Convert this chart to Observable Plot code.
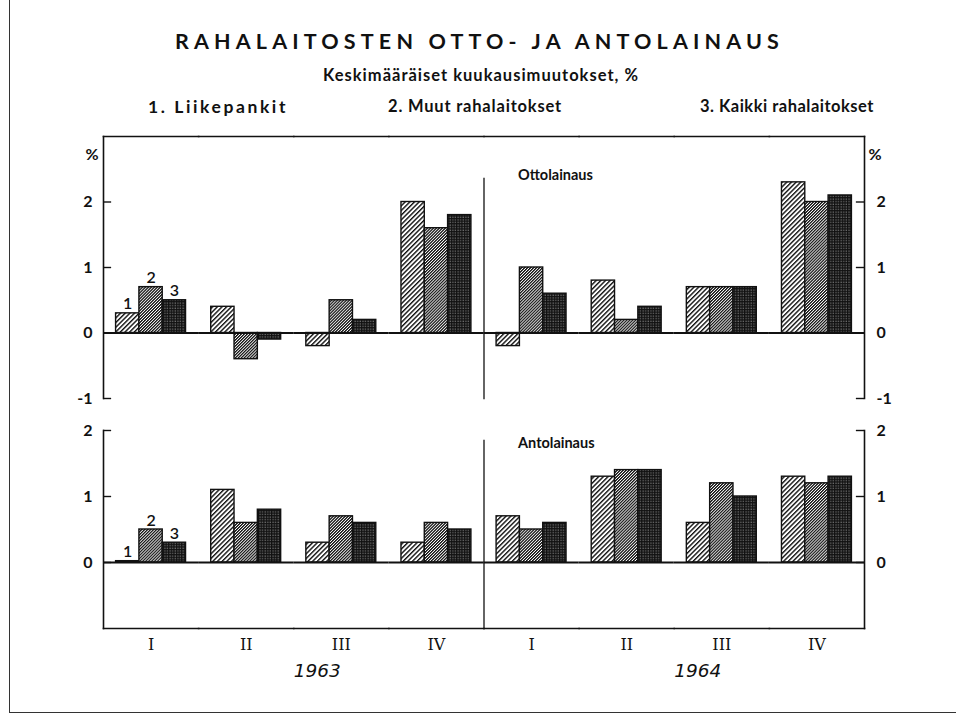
<!DOCTYPE html>
<html>
<head>
<meta charset="utf-8">
<script src="https://cdn.jsdelivr.net/npm/d3@7"></script>
<script src="https://cdn.jsdelivr.net/npm/@observablehq/plot@0.6"></script>
<style>
  body { margin: 0; background: #fff; }
  #page { position: relative; width: 956px; height: 725px; font-family: Lato, "Open Sans", sans-serif; color: #111; overflow: hidden; }
  .t { position: absolute; white-space: nowrap; font-weight: 700; line-height: 1; }
  .panel { position: absolute; left: 0; }
  #border { position: absolute; left: 9px; top: -2px; width: 960px; height: 714px; border-left: 1.5px solid #333; border-bottom: 1.5px solid #333; }
</style>
</head>
<body>
<div id="page">
  <div id="border"></div>
  <svg width="0" height="0" style="position:absolute">
    <defs>
      <pattern id="h1" patternUnits="userSpaceOnUse" width="3.3" height="3.3" patternTransform="rotate(45)">
        <rect width="3.3" height="3.3" fill="#fff"></rect>
        <rect x="0" y="0" width="1.4" height="3.3" fill="#111"></rect>
      </pattern>
      <pattern id="h2" patternUnits="userSpaceOnUse" width="2.1" height="2.1" patternTransform="rotate(45)">
        <rect width="2.1" height="2.1" fill="#fff"></rect>
        <rect x="0" y="0" width="1.25" height="2.1" fill="#111"></rect>
      </pattern>
      <pattern id="h3" patternUnits="userSpaceOnUse" width="2.6" height="2.6">
        <rect width="2.6" height="2.6" fill="#111"></rect>
        <rect x="0.6" y="0.6" width="0.8" height="0.8" fill="#fff"></rect>
      </pattern>
    </defs>
  </svg>
  <div id="texts"></div>
  <div class="panel" id="top" style="top:120px"></div>
  <div class="panel" id="bottom" style="top:412px"></div>
</div>
<script>
// ---- data ----
const years = ["1963", "1964"];
const quarters = ["I", "II", "III", "IV"];
const series = ["1", "2", "3"];
const seriesNames = ["1. Liikepankit", "2. Muut rahalaitokset", "3. Kaikki rahalaitokset"];
const panelTitles = ["Ottolainaus", "Antolainaus"];
const chartTitle = "RAHALAITOSTEN OTTO- JA ANTOLAINAUS";
const chartSubtitle = "Keskimääräiset kuukausimuutokset, %";

// Ottolainaus (deposits), average monthly change %, 1963 I..IV, 1964 I..IV
const otto1 = [0.3, 0.4, -0.2, 2.0, -0.2, 0.8, 0.7, 2.3];
const otto2 = [0.7, -0.4, 0.5, 1.6, 1.0, 0.2, 0.7, 2.0];
const otto3 = [0.5, -0.1, 0.2, 1.8, 0.6, 0.4, 0.7, 2.1];
// Antolainaus (lending)
const anto1 = [0.02, 1.1, 0.3, 0.3, 0.7, 1.3, 0.6, 1.3];
const anto2 = [0.5, 0.6, 0.7, 0.6, 0.5, 1.4, 1.2, 1.2];
const anto3 = [0.3, 0.8, 0.6, 0.5, 0.6, 1.4, 1.0, 1.3];

const topTicks = [-1, 0, 1, 2];
const bottomTicks = [0, 1, 2];

// ---- build tables ----
const quarterKeys = years.flatMap(y => quarters.map(q => `${y}-${q}`));
function rows(vals) {
  return quarterKeys.flatMap((k, i) => series.map((s, j) => ({key: k, s, v: vals[j][i]})));
}
const ottoRows = rows([otto1, otto2, otto3]);
const antoRows = rows([anto1, anto2, anto3]);
const yearRows = years.map(y => ({key: `${y}-III`, year: y}));

// ---- header texts (fitted to the reference widths) ----
const texts = document.getElementById("texts");
function addText(str, left, top, size, target) {
  const d = document.createElement("div");
  d.className = "t";
  d.style.left = left + "px";
  d.style.top = top + "px";
  d.style.fontSize = size + "px";
  d.textContent = str;
  texts.appendChild(d);
  const w = d.getBoundingClientRect().width;
  const n = str.length;
  d.style.letterSpacing = Math.max(0, (target - w) / n) + "px";
  return d;
}
addText(chartTitle, 175, 31, 21.5, 609);
addText(chartSubtitle, 323, 67, 16.5, 316);
const legendPos = [148, 388, 700];
const legendW = [140, 174, 174];
const legendSize = [17.5, 16.5, 16.5];
seriesNames.forEach((n, i) => addText(n, legendPos[i], 98, legendSize[i], legendW[i]));

const ink = "#111";
const W = 956, ML = 103, MR = 92;

function panel({data, yDomain, yTicks, height, marginTop, marginBottom, title, titleDy, dividerInset, isTop}) {
  const marks = [
    Plot.barY(data, {fx: "key", x: "s", y: "v", fill: "s", stroke: ink, strokeWidth: 1.4}),
    Plot.ruleY([0], {stroke: ink, strokeWidth: 2}),
    Plot.frame({anchor: "left", facetAnchor: "left", stroke: ink, strokeWidth: 1.6}),
    Plot.frame({anchor: "right", facetAnchor: "right", stroke: ink, strokeWidth: 1.6}),
    Plot.frame({anchor: isTop ? "top" : "bottom", stroke: ink, strokeWidth: 1.6}),
    Plot.frame({anchor: "left", fx: () => "1964-I", insetTop: dividerInset, stroke: ink, strokeWidth: 1.3}),
    Plot.tickY(yTicks, {y: d => d, facetAnchor: "left", insetRight: 87, stroke: ink, strokeWidth: 1.4}),
    Plot.tickY(yTicks, {y: d => d, facetAnchor: "right", insetLeft: 87, stroke: ink, strokeWidth: 1.4}),
    Plot.axisY({anchor: "left", ticks: yTicks, tickSize: 0, tickPadding: 11, tickFormat: d => String(d), fontSize: 16, fontWeight: 700, fill: ink, label: null}),
    Plot.axisY({anchor: "right", ticks: yTicks, tickSize: 0, tickPadding: 12, tickFormat: d => String(d), fontSize: 16, fontWeight: 700, fill: ink, label: null}),
    Plot.text(data.filter(d => d.key === quarterKeys[0]), {fx: "key", x: "s", y: "v", text: "s", dy: -4, lineAnchor: "bottom", fontSize: 16, fontWeight: 600, fill: ink}),
    Plot.text([title], {fx: () => "1964-I", text: d => d, frameAnchor: "top-left", dx: 34, dy: titleDy, textAnchor: "start", lineAnchor: "middle", fontSize: 14.5, fontWeight: 700, fill: ink})
  ];
  if (isTop) {
    marks.push(
      Plot.text(["%"], {fx: () => quarterKeys[0], text: d => d, frameAnchor: "top-left", dx: -18, dy: 12, fontSize: 16, fontWeight: 700, fill: ink}),
      Plot.text(["%"], {fx: () => quarterKeys[7], text: d => d, frameAnchor: "top-right", dx: 17, dy: 12, fontSize: 16, fontWeight: 700, fill: ink})
    );
  } else {
    marks.push(
      Plot.axisFx({anchor: "bottom", tickSize: 0, tickPadding: 10, tickFormat: k => k.split("-")[1], fontFamily: "DejaVu Serif", fontSize: 16, fontWeight: 400, fill: ink, label: null}),
      Plot.text(yearRows, {fx: "key", text: "year", frameAnchor: "bottom-left", dy: 48, fontSize: 18.5, fontFamily: "DejaVu Sans", fontStyle: "italic", letterSpacing: "2px", fill: ink})
    );
  }
  return Plot.plot({
    width: W,
    height,
    marginLeft: ML,
    marginRight: MR,
    marginTop,
    marginBottom,
    style: {fontFamily: "Lato, 'Open Sans', sans-serif", color: ink, background: "transparent", overflow: "visible"},
    fx: {domain: quarterKeys, paddingInner: 0, paddingOuter: 0, round: false, axis: isTop ? null : undefined, label: null},
    x: {domain: series, paddingInner: 0, paddingOuter: 0.54, round: false, axis: null},
    y: {domain: yDomain},
    color: {domain: series, range: ["url(#h1)", "url(#h2)", "url(#h3)"]},
    marks
  });
}

document.getElementById("top").appendChild(panel({
  data: ottoRows, yDomain: [-1, 3], yTicks: topTicks, height: 290, marginTop: 16, marginBottom: 12,
  title: panelTitles[0], titleDy: 39, dividerInset: 42, isTop: true
}));
document.getElementById("bottom").appendChild(panel({
  data: antoRows, yDomain: [-1, 2], yTicks: bottomTicks, height: 278, marginTop: 18, marginBottom: 62,
  title: panelTitles[1], titleDy: 13, dividerInset: 10, isTop: false
}));
</script>
</body>
</html>
